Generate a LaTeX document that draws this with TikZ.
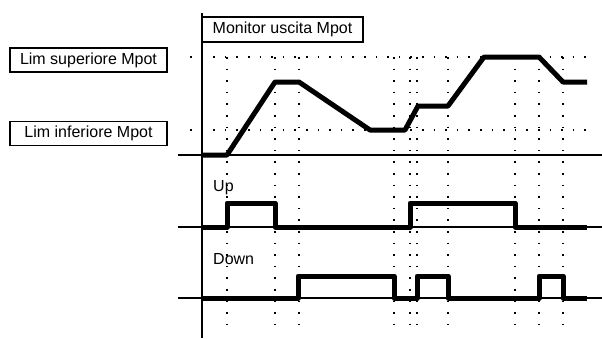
\documentclass[tikz,border=0pt]{standalone}
\usepackage{fontspec}
\setmainfont{Liberation Sans}
\usetikzlibrary{positioning}

\begin{document}
\begin{tikzpicture}[x=1pt,y=-1pt,
        every node/.style={font=\fontsize{16}{18}\selectfont},
        label box/.style={draw,line width=1.5pt,rectangle,inner sep=0pt},
        grid dots/.style={line width=1.6pt,dash pattern=on 1.6pt off 10pt},
        base line/.style={line width=1.5pt},
        signal/.style={line width=5pt,line join=round}]
        \useasboundingbox (0,0) rectangle (602,338);
        % dotted grid
        \foreach \x in {227,275,299,394,410,417,448,515,539,563}
                \draw[grid dots] (\x,57) -- (\x,328);
        \draw[grid dots] (190,57) -- (588,57);
        \draw[grid dots] (190,130) -- (588,130);
        % axis and base lines
        \draw[base line] (202,13) -- (202,338);
        \draw[base line] (178,155) -- (602,155);
        \draw[base line] (178,227) -- (602,227);
        \draw[base line] (178,298) -- (602,298);
        % labels
        \node[label box,minimum width=161pt,minimum height=25pt] (mon) at (282.5,29.5) {Monitor uscita Mpot};
        \node[label box,minimum width=157pt,minimum height=24pt] (hi) at (88.5,60) {Lim superiore Mpot};
        \node[label box,minimum width=157pt,minimum height=24pt] (lo) [below=48pt of hi] {Lim inferiore Mpot};
        \node[anchor=base west,inner sep=0pt] (up) at (213,191) {Up};
        \node[anchor=base west,inner sep=0pt] (down) at (213,264) {Down};
        % Mpot output
        \draw[signal] (203,155) -- (227,155) -- (275,82) -- (299,82) -- (370,130)
                -- (405,130) -- (418,106) -- (448,106) -- (484,57) -- (539,57)
                -- (563,82) -- (587,82);
        % Up
        \draw[signal] (203,227) -- (227,227) -- (227,203) -- (275,203) -- (275,227)
                -- (410,227) -- (410,203) -- (515,203) -- (515,227) -- (587,227);
        % Down
        \draw[signal] (203,298) -- (298,298) -- (298,276) -- (394,276) -- (394,298)
                -- (417,298) -- (417,276) -- (448,276) -- (448,298) -- (539,298)
                -- (539,276) -- (563,276) -- (563,298) -- (587,298);
\end{tikzpicture}
\end{document}
